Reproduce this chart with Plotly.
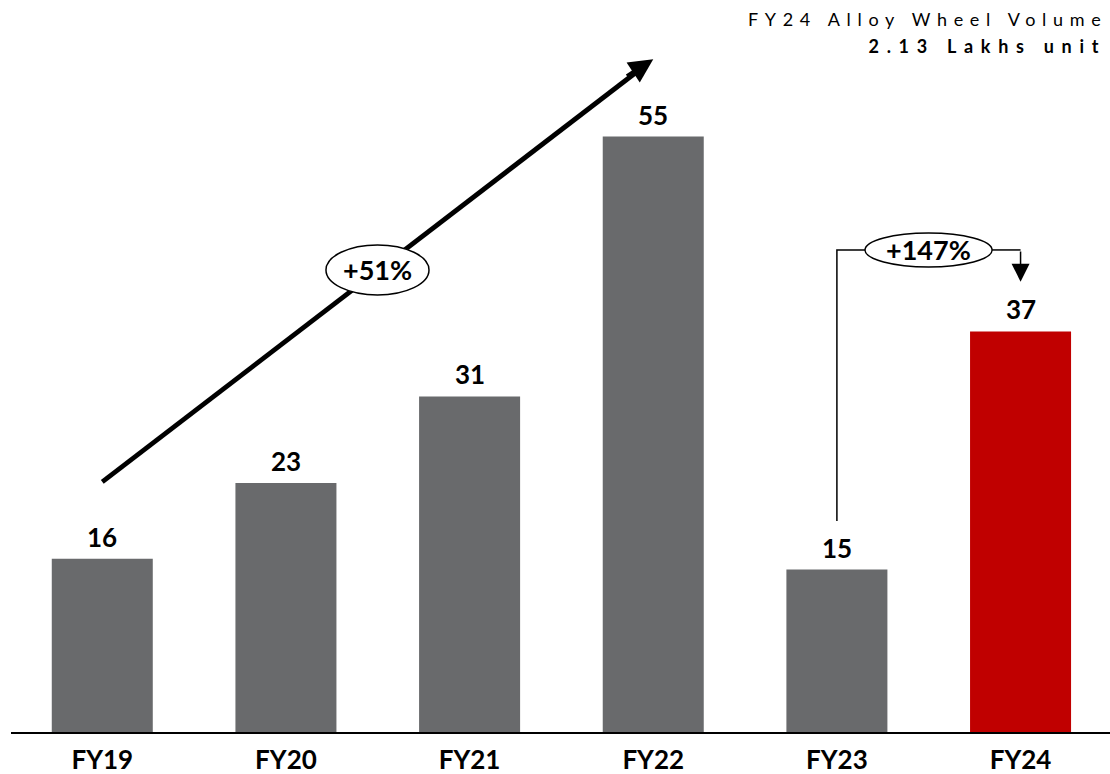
import plotly.graph_objects as go

# Alloy wheel volume by fiscal year (thousand units)
years = ["FY19", "FY20", "FY21", "FY22", "FY23", "FY24"]
volumes = [16, 23, 31, 55, 15, 37]
bar_colors = ["#696A6C"] * 5 + ["#C00000"]

growth_trend = "+51%"
growth_yoy = "+147%"
title_line1 = "FY24 Alloy Wheel Volume"
title_line2 = "2.13 Lakhs unit"

FONT = "Lato, 'Open Sans', sans-serif"

xs = list(range(len(years)))

fig = go.Figure()

fig.add_trace(go.Bar(
    x=xs,
    y=volumes,
    marker=dict(color=bar_colors, line=dict(width=0)),
    width=0.55,
    hoverinfo="skip",
))

# shaft of the long trend arrow (drawn under the badge ellipse)
fig.add_trace(go.Scatter(
    x=[0.0, 2.95],
    y=[23.1, 61.5],
    mode="lines",
    line=dict(color="#000000", width=4.8),
    hoverinfo="skip",
))

annotations = []

# value labels above each bar
for x, v in zip(xs, volumes):
    annotations.append(dict(
        x=x, y=v, xref="x", yref="y", text=str(v), showarrow=False,
        yanchor="bottom", yshift=4,
        font=dict(family=FONT, size=26, color="#000000", weight="bold"),
    ))

# head of the long trend arrow
annotations.append(dict(
    x=3.0, y=62.14, ax=2.85, ay=60.47, xref="x", yref="y", axref="x", ayref="y",
    text="", showarrow=True, arrowhead=2, arrowsize=1.0, arrowwidth=4.8,
    arrowcolor="#000000", standoff=0,
))

# small down arrow into FY24
annotations.append(dict(
    x=5.0, y=41.6, ax=5.0, ay=44.53, xref="x", yref="y", axref="x", ayref="y",
    text="", showarrow=True, arrowhead=2, arrowsize=2.4, arrowwidth=1.5,
    arrowcolor="#000000", standoff=0,
))

# growth badges
annotations.append(dict(
    x=1.4985, y=42.68, xref="x", yref="y", text=growth_trend, showarrow=False,
    font=dict(family=FONT, size=27, color="#000000", weight="bold"),
))
annotations.append(dict(
    x=4.499, y=44.53, xref="x", yref="y", text=growth_yoy, showarrow=False,
    font=dict(family=FONT, size=27, color="#000000", weight="bold"),
))

# headline, top right
annotations.append(dict(
    x=1.0, y=0.9747, xref="paper", yref="paper", text=title_line1,
    showarrow=False, xanchor="right", yanchor="middle", align="right",
    font=dict(family=FONT, size=18, color="#000000"),
))
annotations.append(dict(
    x=0.998, y=0.937, xref="paper", yref="paper", text=title_line2,
    showarrow=False, xanchor="right", yanchor="middle", align="right",
    font=dict(family=FONT, size=18, color="#000000", weight="bold"),
))

shapes = [
    # ellipse behind +51%
    dict(type="circle", xref="x", yref="y", x0=1.218, x1=1.779, y0=40.37, y1=44.99,
         fillcolor="#FFFFFF", line=dict(color="#000000", width=1.5), layer="above"),
    # ellipse behind +147%
    dict(type="circle", xref="x", yref="y", x0=4.153, x1=4.845, y0=42.96, y1=46.10,
         fillcolor="#FFFFFF", line=dict(color="#000000", width=1.5), layer="above"),
    # connector from FY23 up to the +147% badge
    dict(type="path", xref="x", yref="y",
         path="M 4.0,19.49 L 4.0,44.53 L 4.153,44.53",
         line=dict(color="#000000", width=1.5), layer="above"),
    # connector from the badge over to FY24
    dict(type="path", xref="x", yref="y",
         path="M 4.845,44.53 L 5.0,44.53",
         line=dict(color="#000000", width=1.5), layer="above"),
]

fig.update_layout(
    width=1110,
    height=774,
    margin=dict(l=11, r=0, t=0, b=42),
    paper_bgcolor="#FFFFFF",
    plot_bgcolor="#FFFFFF",
    showlegend=False,
    annotations=annotations,
    shapes=shapes,
    xaxis=dict(
        range=[-0.497, 5.487],
        tickvals=xs,
        ticktext=years,
        showgrid=False,
        zeroline=False,
        showline=True,
        linecolor="#000000",
        linewidth=1.5,
        ticks="",
        ticklabelstandoff=4,
        tickfont=dict(family=FONT, size=26, color="#000000", weight="bold"),
        fixedrange=True,
    ),
    yaxis=dict(
        range=[0, 67.62],
        visible=False,
        fixedrange=True,
    ),
)

# widen character spacing of the headline
post = """
var gd = document.getElementById('{plot_id}');
function spaceOut(){
  document.querySelectorAll('.annotation-text').forEach(function(t){
    var s = t.textContent;
    if (s.indexOf('Alloy') >= 0) { t.style.letterSpacing = '6.7px'; }
    if (s.indexOf('Lakhs') >= 0) { t.style.letterSpacing = '7.7px'; }
  });
}
spaceOut();
if (gd && gd.on) { gd.on('plotly_afterplot', spaceOut); }
"""

fig.write_html("out.html", post_script=post, config={"displayModeBar": False})
